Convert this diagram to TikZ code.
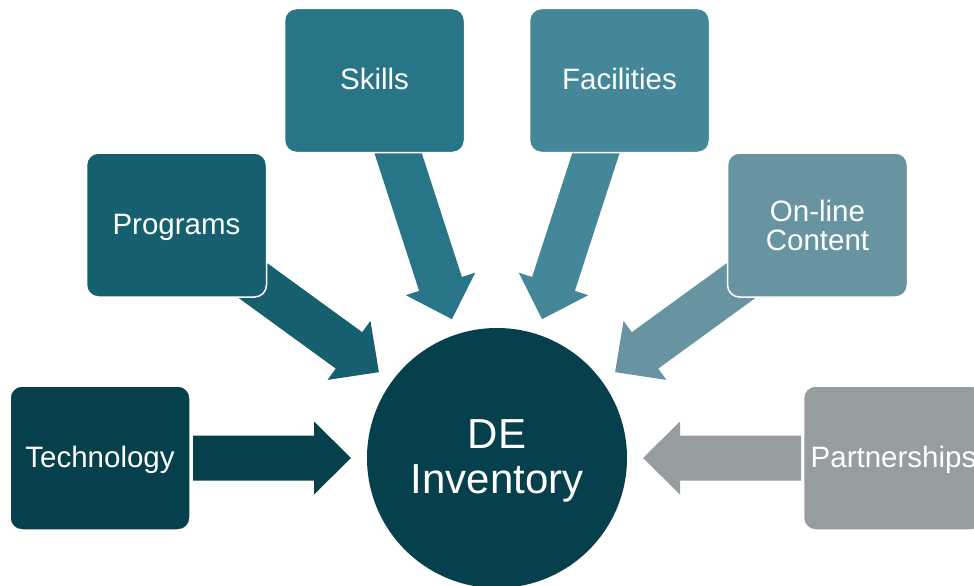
\documentclass[tikz,border=0pt]{standalone}
\usepackage{fontspec}
\setmainfont{Liberation Sans}
\usetikzlibrary{calc}
\pgfdeclarelayer{bg}
\pgfsetlayers{bg,main}
\definecolor{cTech}{RGB}{7,64,77}
\definecolor{cProg}{RGB}{21,95,110}
\definecolor{cSkill}{RGB}{40,117,135}
\definecolor{cFac}{RGB}{67,135,152}
\definecolor{cOnl}{RGB}{104,148,161}
\definecolor{cPart}{RGB}{149,157,159}
\tikzset{
  box/.style={rectangle, rounded corners=12pt, minimum width=180pt, minimum height=144pt,
    inner sep=0pt, draw=white, line width=1.5pt, text=white, align=center,
    text height=24pt, text depth=6pt,
    font=\fontsize{29.5}{29}\selectfont},
  twoline/.style={text height={}, text depth={}},
  hub/.style={circle, minimum size=260pt, inner sep=0pt, fill=cTech},
  hubtext/.style={text=white, align=center, inner sep=0pt,
    font=\fontsize{42}{45}\selectfont}
}
% block arrow from box #2 toward hub c, colour #1, tail radius #3
\newcommand\blockarr[3]{%
  \fill[#1]
    ($(c.center)!#3!(#2.center)!22.5pt!90:(c.center)$) --
    ($(c.center)!183pt!(#2.center)!22.5pt!90:(c.center)$) --
    ($(c.center)!183pt!(#2.center)!36.5pt!90:(c.center)$) --
    ($(c.center)!146pt!(#2.center)$) --
    ($(c.center)!183pt!(#2.center)!36.5pt!-90:(c.center)$) --
    ($(c.center)!183pt!(#2.center)!22.5pt!-90:(c.center)$) --
    ($(c.center)!#3!(#2.center)!22.5pt!-90:(c.center)$) -- cycle;}
\begin{document}
\begin{tikzpicture}[x=1pt,y=-1pt]
\useasboundingbox (0,0) rectangle (974,586);
\node[hub] (c) at (497,458) {};
\node[hubtext] (ct) at (497,461) {DE\\Inventory};
\node[box, fill=cTech] (tech) at (100,458) {Technology};
\node[box, fill=cProg] (prog) at (176.5,225) {Programs};
\node[box, fill=cSkill] (skill) at (374.5,80.5) {Skills};
\node[box, fill=cFac] (fac) at (619.5,80.5) {Facilities};
\node[box, twoline, fill=cOnl] (onl) at (817.5,225) {On-line\\Content};
\node[box, fill=cPart] (part) at (893.5,458) {Partnerships};
\begin{pgfonlayer}{bg}
\blockarr{cTech}{tech}{304pt}
\blockarr{cProg}{prog}{335pt}
\blockarr{cSkill}{skill}{340pt}
\blockarr{cFac}{fac}{340pt}
\blockarr{cOnl}{onl}{335pt}
\blockarr{cPart}{part}{304pt}
\end{pgfonlayer}
\end{tikzpicture}
\end{document}
